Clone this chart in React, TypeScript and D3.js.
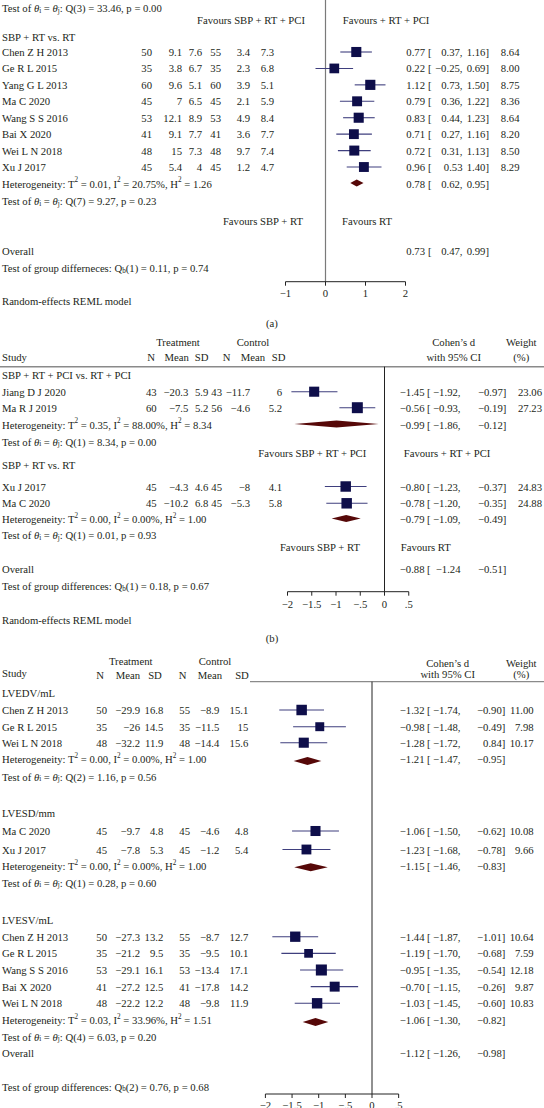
import React from "react";
import * as d3 from "d3";

const FONT = "'Liberation Serif', 'Times New Roman', serif";
const FS = 10.7;
const TXT = "#231f20";
const NAVY = "#0e0e4a";
const CIC = "#3f3f7e";
const MAROON = "#560808";

// ---------- Panel (a) ----------
const aStudies = ["Chen Z H 2013", "Ge R L 2015", "Yang G L 2013", "Ma C 2020", "Wang S S 2016", "Bai X 2020", "Wei L N 2018", "Xu J 2017"];
const aTN = [50, 35, 60, 45, 53, 41, 48, 45];
const aTMean = [9.1, 3.8, 9.6, 7, 12.1, 9.1, 15, 5.4];
const aTSD = [7.6, 6.7, 5.1, 6.5, 8.9, 7.7, 7.3, 4];
const aCN = [55, 35, 60, 45, 53, 41, 48, 45];
const aCMean = [3.4, 2.3, 3.9, 2.1, 4.9, 3.6, 9.7, 1.2];
const aCSD = [7.3, 6.8, 5.1, 5.9, 8.4, 7.7, 7.4, 4.7];
const aEst = [0.77, 0.22, 1.12, 0.79, 0.83, 0.71, 0.72, 0.96];
const aLo = [0.37, -0.25, 0.73, 0.36, 0.44, 0.27, 0.31, 0.53];
const aHi = [1.16, 0.69, 1.5, 1.22, 1.23, 1.16, 1.13, 1.4];
const aW = [8.64, 8.0, 8.75, 8.36, 8.64, 8.2, 8.5, 8.29];
const aSep = [",", ",", ",", ",", ",", ",", ",", ""];
const aPooled = [0.78, 0.62, 0.95];
const aOverall = [0.73, 0.47, 0.99];
const aHet = ["0.01", "20.75%", "1.26"];
const aTicks = [-1, 0, 1, 2];

// ---------- Panel (b) ----------
const b1Studies = ["Jiang D J 2020", "Ma R J 2019"];
const b1Vals = [
  [43, -20.3, 5.9, 43, -11.7, 6],
  [60, -7.5, 5.2, 56, -4.6, 5.2],
];
const b1Est = [-1.45, -0.56];
const b1Lo = [-1.92, -0.93];
const b1Hi = [-0.97, -0.19];
const b1W = [23.06, 27.23];
const b1Pooled = [-0.99, -1.86, -0.12];
const b1Het = ["0.35", "88.00%", "8.34"];
const b2Studies = ["Xu J 2017", "Ma C 2020"];
const b2Vals = [
  [45, -4.3, 4.6, 45, -8, 4.1],
  [45, -10.2, 6.8, 45, -5.3, 5.8],
];
const b2Est = [-0.8, -0.78];
const b2Lo = [-1.23, -1.2];
const b2Hi = [-0.37, -0.35];
const b2W = [24.83, 24.88];
const b2Pooled = [-0.79, -1.09, -0.49];
const b2Het = ["0.00", "0.00%", "1.00"];
const bOverall = [-0.88, -1.24, -0.51];
const bTicks = [-2, -1.5, -1, -0.5, 0, 0.5];

// ---------- Panel (c) ----------
const c1Studies = ["Chen Z H 2013", "Ge R L 2015", "Wei L N 2018"];
const c1Vals = [
  [50, -29.9, 16.8, 55, -8.9, 15.1],
  [35, -26, 14.5, 35, -11.5, 15],
  [48, -32.2, 11.9, 48, -14.4, 15.6],
];
const c1Est = [-1.32, -0.98, -1.28];
const c1Lo = [-1.74, -1.48, -1.72];
const c1Hi = [-0.9, -0.49, -0.84];
const c1HiPrinted = [-0.9, -0.49, 0.84];
const c1W = [11.0, 7.98, 10.17];
const c1Pooled = [-1.21, -1.47, -0.95];
const c1Het = ["0.00", "0.00%", "1.00"];
const c2Studies = ["Ma C 2020", "Xu J 2017"];
const c2Vals = [
  [45, -9.7, 4.8, 45, -4.6, 4.8],
  [45, -7.8, 5.3, 45, -1.2, 5.4],
];
const c2Est = [-1.06, -1.23];
const c2Lo = [-1.5, -1.68];
const c2Hi = [-0.62, -0.78];
const c2W = [10.08, 9.66];
const c2Pooled = [-1.15, -1.46, -0.83];
const c2Het = ["0.00", "0.00%", "1.00"];
const c3Studies = ["Chen Z H 2013", "Ge R L 2015", "Wang S S 2016", "Bai X 2020", "Wei L N 2018"];
const c3Vals = [
  [50, -27.3, 13.2, 55, -8.7, 12.7],
  [35, -21.2, 9.5, 35, -9.5, 10.1],
  [53, -29.1, 16.1, 53, -13.4, 17.1],
  [41, -27.2, 12.5, 41, -17.8, 14.2],
  [48, -22.2, 12.2, 48, -9.8, 11.9],
];
const c3Est = [-1.44, -1.19, -0.95, -0.7, -1.03];
const c3Lo = [-1.87, -1.7, -1.35, -1.15, -1.45];
const c3Hi = [-1.01, -0.68, -0.54, -0.26, -0.6];
const c3W = [10.64, 7.59, 12.18, 9.87, 10.83];
const c3Pooled = [-1.06, -1.3, -0.82];
const c3Het = ["0.03", "33.96%", "1.51"];
const cOverall = [-1.12, -1.26, -0.98];
const cTicks = [-2, -1.5, -1, -0.5, 0, 0.5];

// ---------- helpers ----------
const minus = (s: string) => s.replace(/-/g, "\u2212");
const num = (v: number) => minus(String(v));
const f2 = (v: number) => minus(v.toFixed(2));
const tickFmt = (v: number) => minus(String(v).replace(/^(-?)0\./, "$1."));
const SUB = 7.2;

type Cols = { data: number[]; est: number; br: number; lo: number; hi: number; w: number };

function Txt({ x, y, anchor = "start", children, size = FS, style }: any) {
  return (
    <text x={x} y={y} textAnchor={anchor} dominantBaseline="central" fontSize={size} fill={TXT} fontFamily={FONT} style={style}>
      {children}
    </text>
  );
}

function Het({ y, v }: { y: number; v: string[] }) {
  return (
    <Txt x={2} y={y}>
      Heterogeneity: T<tspan dy={-3.5} fontSize={SUB}>2</tspan>
      <tspan dy={3.5}>{` = ${v[0]}, I`}</tspan>
      <tspan dy={-3.5} fontSize={SUB}>2</tspan>
      <tspan dy={3.5}>{` = ${v[1]}, H`}</tspan>
      <tspan dy={-3.5} fontSize={SUB}>2</tspan>
      <tspan dy={3.5}>{` = ${v[2]}`}</tspan>
    </Txt>
  );
}

function TestQ({ y, text }: { y: number; text: string }) {
  return (
    <Txt x={2} y={y}>
      {"Test of "}
      <tspan fontStyle="italic">θ</tspan>
      <tspan dy={2.5} fontSize={SUB}>i</tspan>
      <tspan dy={-2.5}>{" = "}</tspan>
      <tspan fontStyle="italic">θ</tspan>
      <tspan dy={2.5} fontSize={SUB}>j</tspan>
      <tspan dy={-2.5}>{`: ${text}`}</tspan>
    </Txt>
  );
}

function GroupDiff({ y, label, text }: { y: number; label: string; text: string }) {
  return (
    <Txt x={2} y={y}>
      {label}Q<tspan dy={2.5} fontSize={SUB}>b</tspan>
      <tspan dy={-2.5}>{text}</tspan>
    </Txt>
  );
}

function CiText({ y, est, lo, hi, w, cols }: { y: number; est: string; lo: string; hi: string; w?: string; cols: Cols }) {
  return (
    <g>
      <Txt x={cols.est} y={y} anchor="end">{est}</Txt>
      <Txt x={cols.br} y={y}>[</Txt>
      <Txt x={cols.lo} y={y} anchor="end">{lo}</Txt>
      <Txt x={cols.hi} y={y} anchor="end">{hi}</Txt>
      {w !== undefined && <Txt x={cols.w} y={y} anchor="end">{w}</Txt>}
    </g>
  );
}

function StudyRow({ y, name, vals, est, lo, hi, w, hiPrinted, sep = ",", x, size, cols }: any) {
  const s = size(w);
  return (
    <g>
      <Txt x={2} y={y}>{name}</Txt>
      {vals.map((v: number, k: number) => (
        <Txt key={k} x={cols.data[k]} y={y} anchor="end">{num(v)}</Txt>
      ))}
      <line x1={x(lo)} x2={x(hi)} y1={y} y2={y} stroke={CIC} strokeWidth={1.1} />
      <rect x={x(est) - s / 2} y={y - s / 2} width={s} height={s} fill={NAVY} />
      <CiText y={y} est={f2(est)} lo={f2(lo) + sep} hi={f2(hiPrinted ?? hi) + "]"} w={w.toFixed(2)} cols={cols} />
    </g>
  );
}

function Diamond({ y, v, x, h = 8 }: { y: number; v: number[]; x: any; h?: number }) {
  const [e, l, u] = v;
  const pts = [[x(l), y], [x(e), y - h / 2], [x(u), y], [x(e), y + h / 2]].map((p) => p.join(",")).join(" ");
  return <polygon points={pts} fill={MAROON} />;
}

function Axis({ x, y, ticks, labelY }: { x: any; y: number; ticks: number[]; labelY: number }) {
  const [r0, r1] = x.range();
  return (
    <g>
      <line x1={r0} x2={r1} y1={y} y2={y} stroke="#222" strokeWidth={1} />
      {ticks.map((t) => (
        <g key={t}>
          <line x1={x(t)} x2={x(t)} y1={y} y2={y + 4} stroke="#222" strokeWidth={1} />
          <Txt x={x(t)} y={labelY} anchor="middle">{tickFmt(t)}</Txt>
        </g>
      ))}
    </g>
  );
}

export default function App() {
  // scales
  const xA = d3.scaleLinear().domain([-1, 2]).range([285.5, 405.5]);
  const xB = d3.scaleLinear().domain([-2, 0.5]).range([287.5, 408.75]);
  const xC = d3.scaleLinear().domain([-2, 0.5]).range([265.4, 398.65]);
  const sA = d3.scaleSqrt().domain([0, 8.5]).range([0, 10]);
  const sB = d3.scaleSqrt().domain([0, 25]).range([0, 10.5]);
  const sC = d3.scaleSqrt().domain([0, 10]).range([0, 10]);

  const colsA: Cols = { data: [152, 182, 202, 221, 250, 274], est: 425, br: 428, lo: 462.5, hi: 489, w: 519.5 };
  const colsB: Cols = { data: [156.7, 188.3, 208.3, 222, 250, 282], est: 424.5, br: 427, lo: 460.5, hi: 506.3, w: 542 };
  const colsC: Cols = { data: [107, 140, 163.3, 190, 219.3, 248.3], est: 424.5, br: 427, lo: 460.5, hi: 505.3, w: 533.7 };

  const aRowY = (i: number) => 52 + i * 16.43;
  const c3RowY = (i: number) => 936.7 + i * 16.65;

  return (
    <div style={{ position: "absolute", left: 0, top: 0 }}>
      <svg width={544} height={1108} style={{ display: "block", background: "#fff" }} fontFamily={FONT}>
        {/* ================= Panel (a) ================= */}
        <line x1={xA(0)} x2={xA(0)} y1={0} y2={281.7} stroke="#7a7a7a" strokeWidth={1.2} />
        <TestQ y={8} text="Q(3) = 33.46, p = 0.00" />
        <Txt x={305} y={20} anchor="end">Favours SBP + RT + PCI</Txt>
        <Txt x={342.7} y={20}>Favours + RT + PCI</Txt>
        <Txt x={2} y={37}>SBP + RT vs. RT</Txt>
        {aStudies.map((n, i) => (
          <StudyRow key={n} y={aRowY(i)} name={n}
            vals={[aTN[i], aTMean[i], aTSD[i], aCN[i], aCMean[i], aCSD[i]]}
            est={aEst[i]} lo={aLo[i]} hi={aHi[i]} w={aW[i]} sep={aSep[i]} x={xA} size={sA} cols={colsA} />
        ))}
        <Het y={183.5} v={aHet} />
        <Diamond y={183} v={aPooled} x={xA} h={7} />
        <CiText y={183.5} est={f2(aPooled[0])} lo={f2(aPooled[1]) + ","} hi={f2(aPooled[2]) + "]"} cols={colsA} />
        <TestQ y={201} text="Q(7) = 9.27, p = 0.23" />
        <Txt x={303} y={220.7} anchor="end">Favours SBP + RT</Txt>
        <Txt x={342} y={220.7}>Favours RT</Txt>
        <Txt x={2} y={251}>Overall</Txt>
        <CiText y={251} est={f2(aOverall[0])} lo={f2(aOverall[1]) + ","} hi={f2(aOverall[2]) + "]"} cols={colsA} />
        <GroupDiff y={268} label="Test of group differneces: " text="(1) = 0.11, p = 0.74" />
        <Axis x={xA} y={281.7} ticks={aTicks} labelY={292.7} />
        <Txt x={2} y={300.7}>Random-effects REML model</Txt>
        <Txt x={272} y={323} anchor="middle">(a)</Txt>

        {/* ================= Panel (b) ================= */}
        <Txt x={178} y={341.7} anchor="middle">Treatment</Txt>
        <Txt x={253} y={341.7} anchor="middle">Control</Txt>
        <Txt x={453.7} y={341.7} anchor="middle">Cohen’s d</Txt>
        <Txt x={521.3} y={341.7} anchor="middle">Weight</Txt>
        <Txt x={2} y={356.7}>Study</Txt>
        {["N", "Mean", "SD", "N", "Mean", "SD"].map((h, k) => (
          <Txt key={k} x={[151, 176.7, 201.7, 226.7, 253, 278.7][k]} y={356.7} anchor="middle">{h}</Txt>
        ))}
        <Txt x={453.7} y={356.7} anchor="middle">with 95% CI</Txt>
        <Txt x={521.3} y={356.7} anchor="middle">(%)</Txt>
        <line x1={0} x2={544} y1={366.7} y2={366.7} stroke="#8a8a8a" strokeWidth={1.4} />
        <line x1={xB(0)} x2={xB(0)} y1={366.7} y2={591.7} stroke="#222" strokeWidth={1} />
        <Txt x={2} y={375}>SBP + RT + PCI vs. RT + PCI</Txt>
        {b1Studies.map((n, i) => (
          <StudyRow key={n} y={[391.7, 407.7][i]} name={n} vals={b1Vals[i]}
            est={b1Est[i]} lo={b1Lo[i]} hi={b1Hi[i]} w={b1W[i]} x={xB} size={sB} cols={colsB} />
        ))}
        <Het y={424.5} v={b1Het} />
        <Diamond y={424} v={b1Pooled} x={xB} h={7} />
        <CiText y={424.5} est={f2(b1Pooled[0])} lo={f2(b1Pooled[1]) + ","} hi={f2(b1Pooled[2]) + "]"} cols={colsB} />
        <TestQ y={441.7} text="Q(1) = 8.34, p = 0.00" />
        <Txt x={366.3} y={452.7} anchor="end">Favours SBP + RT + PCI</Txt>
        <Txt x={403.7} y={452.7}>Favours + RT + PCI</Txt>
        <Txt x={2} y={465}>SBP + RT vs. RT</Txt>
        {b2Studies.map((n, i) => (
          <StudyRow key={n} y={[486.5, 503.3][i]} name={n} vals={b2Vals[i]}
            est={b2Est[i]} lo={b2Lo[i]} hi={b2Hi[i]} w={b2W[i]} x={xB} size={sB} cols={colsB} />
        ))}
        <Het y={519} v={b2Het} />
        <Diamond y={518.5} v={b2Pooled} x={xB} h={7} />
        <CiText y={519} est={f2(b2Pooled[0])} lo={f2(b2Pooled[1]) + ","} hi={f2(b2Pooled[2]) + "]"} cols={colsB} />
        <TestQ y={535} text="Q(1) = 0.01, p = 0.93" />
        <Txt x={360} y={547.3} anchor="end">Favours SBP + RT</Txt>
        <Txt x={400.7} y={547.3}>Favours RT</Txt>
        <Txt x={2} y={569.3}>Overall</Txt>
        <CiText y={569.3} est={f2(bOverall[0])} lo={f2(bOverall[1])} hi={f2(bOverall[2]) + "]"} cols={colsB} />
        <GroupDiff y={586} label="Test of group differences: " text="(1) = 0.18, p = 0.67" />
        <Axis x={xB} y={591.7} ticks={bTicks} labelY={604.3} />
        <Txt x={2} y={620}>Random-effects REML model</Txt>
        <Txt x={272} y={638} anchor="middle">(b)</Txt>

        {/* ================= Panel (c) ================= */}
        <Txt x={130.7} y={660.7} anchor="middle">Treatment</Txt>
        <Txt x={215} y={660.7} anchor="middle">Control</Txt>
        <Txt x={447.7} y={662.7} anchor="middle">Cohen’s d</Txt>
        <Txt x={521.3} y={662.7} anchor="middle">Weight</Txt>
        <Txt x={2} y={673}>Study</Txt>
        {["N", "Mean", "SD", "N", "Mean", "SD"].map((h, k) => (
          <Txt key={k} x={[100, 128, 155, 182.7, 210, 242][k]} y={675} anchor="middle">{h}</Txt>
        ))}
        <Txt x={447.7} y={674.3} anchor="middle">with 95% CI</Txt>
        <Txt x={521.3} y={674.3} anchor="middle">(%)</Txt>
        <line x1={250} x2={544} y1={681.7} y2={681.7} stroke="#8a8a8a" strokeWidth={1.2} />
        <line x1={xC(0)} x2={xC(0)} y1={681.7} y2={1094} stroke="#222" strokeWidth={1} />

        <Txt x={2} y={693.3}>LVEDV/mL</Txt>
        {c1Studies.map((n, i) => (
          <StudyRow key={n} y={[710, 726.7, 742.7][i]} name={n} vals={c1Vals[i]}
            est={c1Est[i]} lo={c1Lo[i]} hi={c1Hi[i]} hiPrinted={c1HiPrinted[i]} w={c1W[i]} x={xC} size={sC} cols={colsC} />
        ))}
        <Het y={759.3} v={c1Het} />
        <Diamond y={761} v={c1Pooled} x={xC} h={8} />
        <CiText y={759.3} est={f2(c1Pooled[0])} lo={f2(c1Pooled[1]) + ","} hi={f2(c1Pooled[2]) + "]"} cols={colsC} />
        <TestQ y={776.7} text="Q(2) = 1.16, p = 0.56" />

        <Txt x={2} y={813.3}>LVESD/mm</Txt>
        {c2Studies.map((n, i) => (
          <StudyRow key={n} y={[831, 849.5][i]} name={n} vals={c2Vals[i]}
            est={c2Est[i]} lo={c2Lo[i]} hi={c2Hi[i]} w={c2W[i]} x={xC} size={sC} cols={colsC} />
        ))}
        <Het y={866} v={c2Het} />
        <Diamond y={867.3} v={c2Pooled} x={xC} h={8} />
        <CiText y={866} est={f2(c2Pooled[0])} lo={f2(c2Pooled[1]) + ","} hi={f2(c2Pooled[2]) + "]"} cols={colsC} />
        <TestQ y={882.7} text="Q(1) = 0.28, p = 0.60" />

        <Txt x={2} y={920}>LVESV/mL</Txt>
        {c3Studies.map((n, i) => (
          <StudyRow key={n} y={c3RowY(i)} name={n} vals={c3Vals[i]}
            est={c3Est[i]} lo={c3Lo[i]} hi={c3Hi[i]} w={c3W[i]} x={xC} size={sC} cols={colsC} />
        ))}
        <Het y={1020} v={c3Het} />
        <Diamond y={1022} v={c3Pooled} x={xC} h={8} />
        <CiText y={1020} est={f2(c3Pooled[0])} lo={f2(c3Pooled[1]) + ","} hi={f2(c3Pooled[2]) + "]"} cols={colsC} />
        <TestQ y={1036.7} text="Q(4) = 6.03, p = 0.20" />
        <Txt x={2} y={1052.7}>Overall</Txt>
        <CiText y={1053.3} est={f2(cOverall[0])} lo={f2(cOverall[1]) + ","} hi={f2(cOverall[2]) + "]"} cols={colsC} />
        <GroupDiff y={1086.7} label="Test of group differences: " text="(2) = 0.76, p = 0.68" />
        <Axis x={xC} y={1094} ticks={cTicks} labelY={1105} />
      </svg>
    </div>
  );
}
